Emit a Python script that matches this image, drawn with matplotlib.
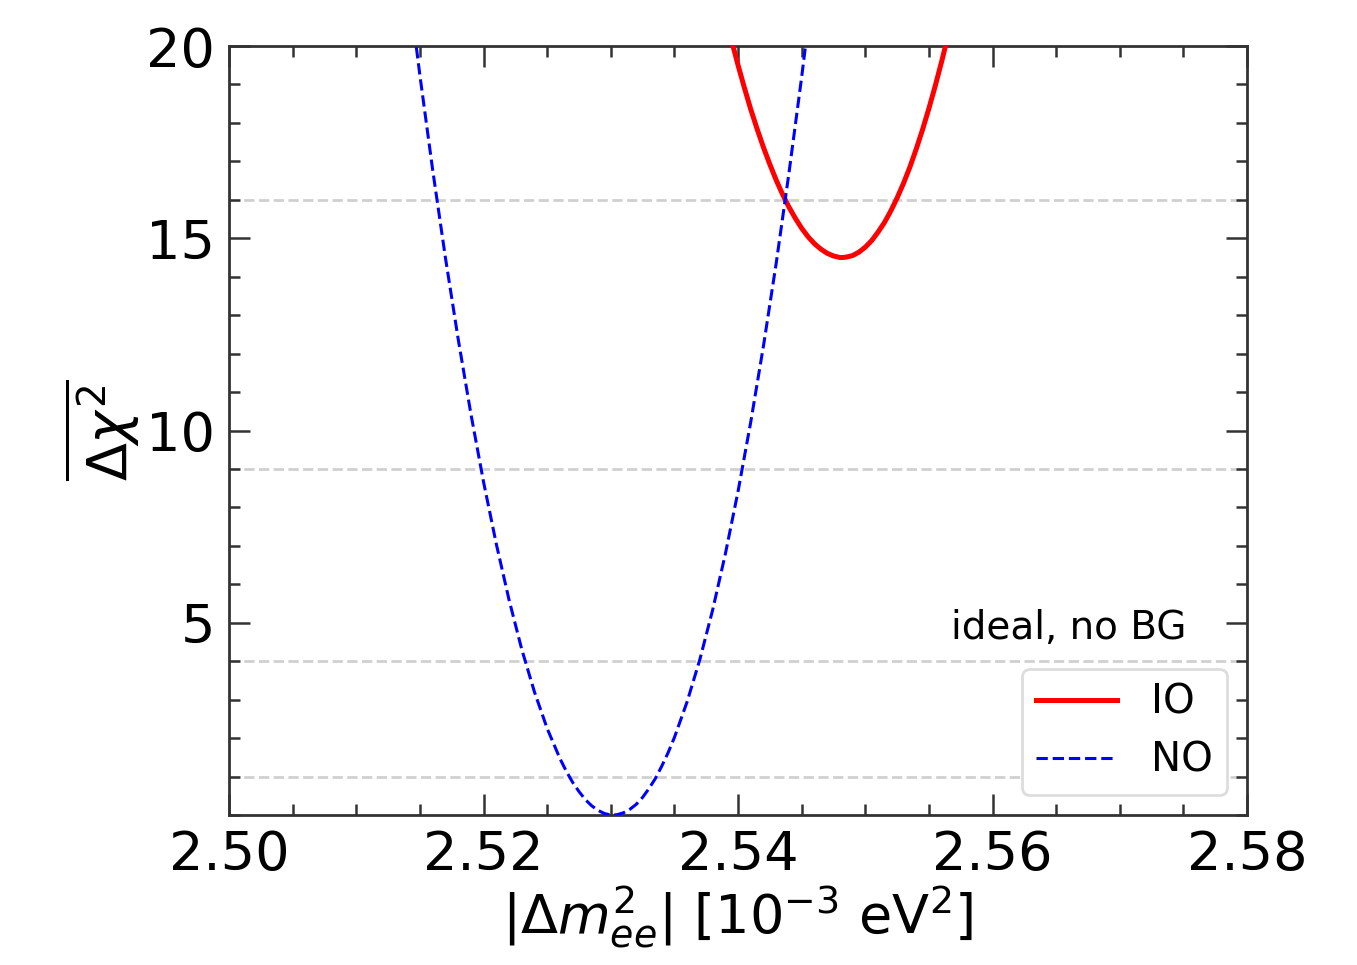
import matplotlib
matplotlib.use("Agg")
import matplotlib.pyplot as plt
from matplotlib.ticker import MultipleLocator

# Data
no_x = [2.514, 2.515, 2.516, 2.517, 2.518, 2.519, 2.520, 2.521, 2.522, 2.523,
        2.524, 2.525, 2.526, 2.5265, 2.527, 2.5275, 2.528, 2.5285, 2.529, 2.5295,
        2.530, 2.5302, 2.5305, 2.531, 2.5315, 2.532, 2.5325, 2.533, 2.5335, 2.534,
        2.5345, 2.535, 2.536, 2.537, 2.538, 2.539, 2.540, 2.541, 2.542, 2.543,
        2.544, 2.545, 2.546]
no_y = [21.84, 19.23, 16.78, 14.50, 12.39, 10.44, 8.66, 7.05, 5.60, 4.31,
        3.20, 2.25, 1.47, 1.14, 0.85, 0.61, 0.40, 0.24, 0.12, 0.04,
        0.00, 0.00, 0.01, 0.06, 0.15, 0.28, 0.46, 0.69, 0.95, 1.27,
        1.62, 2.02, 2.95, 4.05, 5.33, 6.79, 8.42, 10.23, 12.21, 14.36,
        16.70, 19.20, 21.89]

io_x = [2.539, 2.5395, 2.540, 2.5405, 2.541, 2.5415, 2.542, 2.5425, 2.543, 2.5435,
        2.544, 2.5445, 2.545, 2.5455, 2.546, 2.5465, 2.547, 2.5475, 2.548, 2.5482,
        2.5485, 2.549, 2.5495, 2.550, 2.5505, 2.551, 2.5515, 2.552, 2.5525, 2.553,
        2.5535, 2.554, 2.5545, 2.555, 2.5555, 2.556, 2.5565, 2.557]
io_y = [20.79, 20.13, 19.50, 18.91, 18.35, 17.84, 17.36, 16.92, 16.51, 16.14,
        15.81, 15.52, 15.26, 15.04, 14.86, 14.72, 14.61, 14.54, 14.50, 14.50,
        14.51, 14.55, 14.64, 14.77, 14.94, 15.16, 15.41, 15.71, 16.05, 16.43,
        16.85, 17.32, 17.83, 18.38, 18.97, 19.60, 20.27, 20.99]

ref_levels = [1, 4, 9, 16]
x_ticks = [2.50, 2.52, 2.54, 2.56, 2.58]
x_tick_labels = ["2.50", "2.52", "2.54", "2.56", "2.58"]
y_ticks = [5, 10, 15, 20]

fig = plt.figure(figsize=(6.785, 4.825), dpi=200)
ax = fig.add_axes([0.1688, 0.1554, 0.7502, 0.7969])

for lv in ref_levels:
    ax.axhline(lv, color="#d0d0d0", ls="--", lw=1.0, zorder=1)

ax.plot(io_x, io_y, color="red", lw=1.8, ls="-", label="IO", zorder=3)
ax.plot(no_x, no_y, color="blue", lw=1.1, ls="--", label="NO", zorder=3)

ax.set_xlim(2.50, 2.58)
ax.set_ylim(0, 20)
ax.set_xticks(x_ticks)
ax.set_xticklabels(x_tick_labels)
ax.set_yticks(y_ticks)
ax.xaxis.set_minor_locator(MultipleLocator(0.005))
ax.yaxis.set_minor_locator(MultipleLocator(1))
ax.tick_params(which="both", direction="in", top=True, right=True,
               labelsize=19.5, color="#333333")
ax.tick_params(which="major", length=7.5, width=0.9, pad=5)
ax.tick_params(which="minor", length=4, width=0.9)
for sp in ax.spines.values():
    sp.set_linewidth(1.0)
    sp.set_color("#333333")

ax.set_xlabel(r"$|\Delta m^2_{ee}|$ [$10^{-3}$ eV$^2$]", fontsize=19.5, labelpad=1)
ax.set_ylabel(r"$\overline{\Delta\chi^2}$", fontsize=20, labelpad=2)

ax.text(0.94, 0.243, "ideal, no BG", transform=ax.transAxes,
        ha="right", va="center", fontsize=14)
leg = ax.legend(loc="lower right", fontsize=14.5, handlelength=2.0,
                handletextpad=0.85, framealpha=1.0, borderpad=0.35,
                labelspacing=0.45)
leg.get_frame().set_edgecolor("#dddddd")

fig.savefig("out.png", dpi=200)
